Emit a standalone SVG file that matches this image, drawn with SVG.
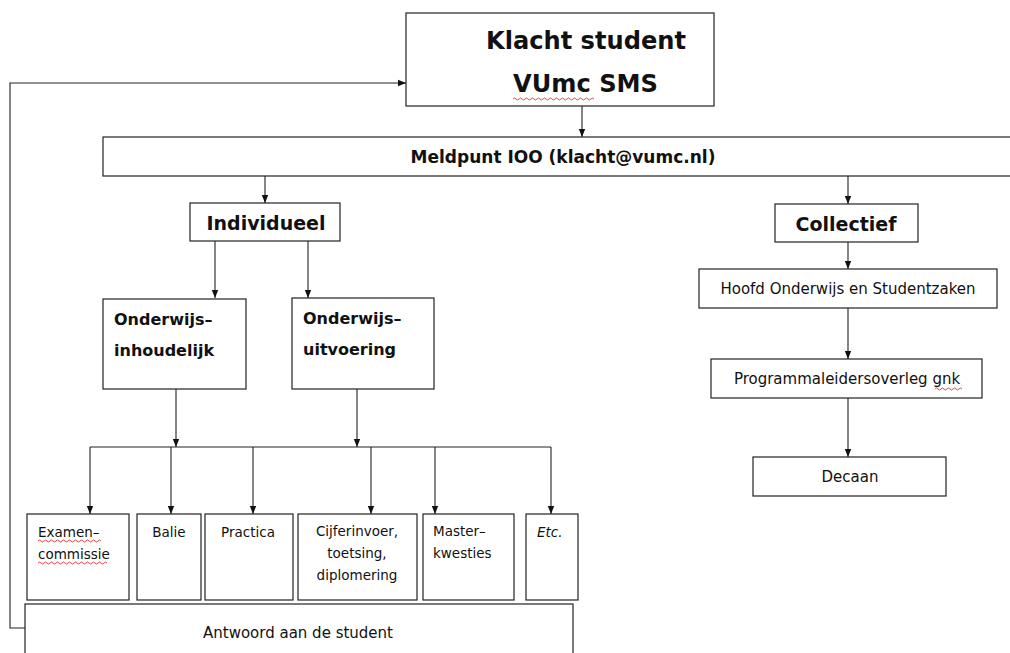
<svg xmlns="http://www.w3.org/2000/svg" width="1010" height="653" viewBox="0 0 1010 653">
<style>
.box{fill:#fff;stroke:#222;stroke-width:1.2}
.ln{fill:none;stroke:#222;stroke-width:1.1}
.t{font-family:"DejaVu Sans",sans-serif;fill:#111}
.b{font-weight:bold}
.s{font-size:13.5px}
.m{font-size:15px}
.sq{fill:none;stroke:#e03030;stroke-width:0.9}
</style>
<defs>
<marker id="ah" viewBox="0 0 10 10" refX="10" refY="5" markerWidth="8" markerHeight="8" markerUnits="userSpaceOnUse" orient="auto">
<path d="M0,1 L10,5 L0,9 Z" fill="#111"/>
</marker>
</defs>
<rect width="1010" height="653" fill="#fff"/>
<g id="connectors">
<path class="ln" d="M582,106 V137" marker-end="url(#ah)"/>
<path class="ln" d="M265,176 V203" marker-end="url(#ah)"/>
<path class="ln" d="M848,176 V204" marker-end="url(#ah)"/>
<path class="ln" d="M215,241 V298" marker-end="url(#ah)"/>
<path class="ln" d="M308,241 V298" marker-end="url(#ah)"/>
<path class="ln" d="M176,389 V447" marker-end="url(#ah)"/>
<path class="ln" d="M357,389 V447" marker-end="url(#ah)"/>
<path class="ln" d="M90,447 H551"/>
<path class="ln" d="M90,447 V514" marker-end="url(#ah)"/>
<path class="ln" d="M171,447 V514" marker-end="url(#ah)"/>
<path class="ln" d="M253,447 V514" marker-end="url(#ah)"/>
<path class="ln" d="M371,447 V514" marker-end="url(#ah)"/>
<path class="ln" d="M435,447 V514" marker-end="url(#ah)"/>
<path class="ln" d="M551,447 V514" marker-end="url(#ah)"/>
<path class="ln" d="M848,242 V269" marker-end="url(#ah)"/>
<path class="ln" d="M848,308 V359" marker-end="url(#ah)"/>
<path class="ln" d="M848,398 V457" marker-end="url(#ah)"/>
<path class="ln" d="M25,628 H10 V83 H406" marker-end="url(#ah)"/>
</g>
<g id="klacht">
<rect class="box" x="406" y="13" width="308" height="93"/>
<text class="t b" x="486" y="49" font-size="25" textLength="200" lengthAdjust="spacingAndGlyphs">Klacht student</text>
<text class="t b" x="513" y="92" font-size="25" textLength="145" lengthAdjust="spacingAndGlyphs">VUmc SMS</text>
<path class="sq" d="M513,99 q1.5,-2 3,0 t3,0 t3,0 t3,0 t3,0 t3,0 t3,0 t3,0 t3,0 t3,0 t3,0 t3,0 t3,0 t3,0 t3,0 t3,0 t3,0 t3,0 t3,0 t3,0 t3,0 t3,0 t3,0 t3,0 t3,0 t3,0 t3,0"/>
</g>
<g id="meldpunt">
<rect class="box" x="103" y="137" width="920" height="39"/>
<text class="t b" x="563" y="163" text-anchor="middle" font-size="17">Meldpunt IOO (klacht@vumc.nl)</text>
</g>
<g id="individueel">
<rect class="box" x="190" y="203" width="150" height="38"/>
<text class="t b" x="266" y="230" text-anchor="middle" font-size="19">Individueel</text>
</g>
<g id="collectief">
<rect class="box" x="775" y="204" width="143" height="38"/>
<text class="t b" x="846" y="231" text-anchor="middle" font-size="19">Collectief</text>
</g>
<g id="inhoudelijk">
<rect class="box" x="103" y="299" width="143" height="90"/>
<text class="t b" x="114" y="325" font-size="16">Onderwijs–</text>
<text class="t b" x="114" y="356" font-size="16">inhoudelijk</text>
</g>
<g id="uitvoering">
<rect class="box" x="292" y="298" width="142" height="91"/>
<text class="t b" x="303" y="324" font-size="16">Onderwijs–</text>
<text class="t b" x="303" y="355" font-size="16">uitvoering</text>
</g>
<g id="examencommissie">
<rect class="box" x="27" y="514" width="102" height="86"/>
<text class="t s" x="38" y="537">Examen–</text>
<text class="t s" x="38" y="559">commissie</text>
<path class="sq" d="M38,541 q1.5,-2 3,0 t3,0 t3,0 t3,0 t3,0 t3,0 t3,0 t3,0 t3,0 t3,0 t3,0 t3,0 t3,0 t3,0 t3,0 t3,0 t3,0 t3,0 t3,0 t3,0 t3,0"/>
<path class="sq" d="M38,563 q1.5,-2 3,0 t3,0 t3,0 t3,0 t3,0 t3,0 t3,0 t3,0 t3,0 t3,0 t3,0 t3,0 t3,0 t3,0 t3,0 t3,0 t3,0 t3,0 t3,0 t3,0 t3,0 t3,0 t3,0"/>
</g>
<g id="balie">
<rect class="box" x="137" y="514" width="64" height="86"/>
<text class="t s" x="169" y="537" text-anchor="middle">Balie</text>
</g>
<g id="practica">
<rect class="box" x="205" y="514" width="88" height="86"/>
<text class="t s" x="248" y="537" text-anchor="middle">Practica</text>
</g>
<g id="cijferinvoer">
<rect class="box" x="298" y="514" width="119" height="86"/>
<text class="t s" x="357" y="536" text-anchor="middle">Cijferinvoer,</text>
<text class="t s" x="357" y="558" text-anchor="middle">toetsing,</text>
<text class="t s" x="357" y="580" text-anchor="middle">diplomering</text>
</g>
<g id="masterkwesties">
<rect class="box" x="423" y="514" width="91" height="86"/>
<text class="t s" x="433" y="536">Master–</text>
<text class="t s" x="433" y="558">kwesties</text>
</g>
<g id="etc">
<rect class="box" x="526" y="514" width="52" height="86"/>
<text class="t s" x="537" y="537" font-style="italic">Etc.</text>
</g>
<g id="antwoord">
<rect class="box" x="25" y="604" width="548" height="60"/>
<text class="t m" x="298" y="638" text-anchor="middle">Antwoord aan de student</text>
</g>
<g id="hoofd">
<rect class="box" x="699" y="269" width="298" height="39"/>
<text class="t m" x="848" y="294" text-anchor="middle">Hoofd Onderwijs en Studentzaken</text>
</g>
<g id="programmaleiders">
<rect class="box" x="711" y="359" width="271" height="39"/>
<text class="t m" x="847" y="384" text-anchor="middle">Programmaleidersoverleg gnk</text>
<path class="sq" d="M935,389 q1.5,-2 3,0 t3,0 t3,0 t3,0 t3,0 t3,0 t3,0 t3,0 t3,0"/>
</g>
<g id="decaan">
<rect class="box" x="753" y="457" width="193" height="39"/>
<text class="t m" x="850" y="482" text-anchor="middle">Decaan</text>
</g>
</svg>
